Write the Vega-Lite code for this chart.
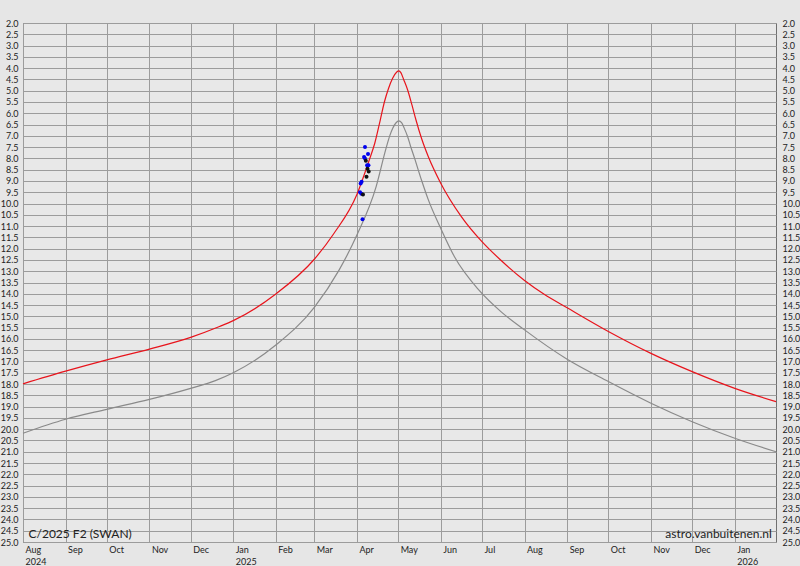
{
  "$schema": "https://vega.github.io/schema/vega-lite/v6.json",
  "width": 753,
  "height": 519,
  "autosize": {"type": "none"},
  "padding": {"left": 23, "top": 23, "right": 24, "bottom": 24},
  "background": "#e6e6e6",
  "config": {
    "view": {"fill": "#e8e8e8", "stroke": "#707070", "strokeWidth": 1},
    "font": "Lato"
  },
  "datasets": {
    "curves": [
      {"date": "2024-08-01", "mag": 17.99, "series": "total"},
      {"date": "2024-09-01", "mag": 17.43, "series": "total"},
      {"date": "2024-10-01", "mag": 16.93, "series": "total"},
      {"date": "2024-11-01", "mag": 16.45, "series": "total"},
      {"date": "2024-12-01", "mag": 15.93, "series": "total"},
      {"date": "2024-12-22", "mag": 15.45, "series": "total"},
      {"date": "2025-01-01", "mag": 15.19, "series": "total"},
      {"date": "2025-02-01", "mag": 14.01, "series": "total"},
      {"date": "2025-03-01", "mag": 12.47, "series": "total"},
      {"date": "2025-03-15", "mag": 11.35, "series": "total"},
      {"date": "2025-04-01", "mag": 9.6, "series": "total"},
      {"date": "2025-04-10", "mag": 8.07, "series": "total"},
      {"date": "2025-04-14", "mag": 7.33, "series": "total"},
      {"date": "2025-04-18", "mag": 6.3, "series": "total"},
      {"date": "2025-04-21", "mag": 5.5, "series": "total"},
      {"date": "2025-04-24", "mag": 4.9, "series": "total"},
      {"date": "2025-04-27", "mag": 4.45, "series": "total"},
      {"date": "2025-04-30", "mag": 4.17, "series": "total"},
      {"date": "2025-05-01T12:00:00Z", "mag": 4.12, "series": "total"},
      {"date": "2025-05-03", "mag": 4.2, "series": "total"},
      {"date": "2025-05-05", "mag": 4.5, "series": "total"},
      {"date": "2025-05-08", "mag": 4.98, "series": "total"},
      {"date": "2025-05-11", "mag": 5.62, "series": "total"},
      {"date": "2025-05-14", "mag": 6.3, "series": "total"},
      {"date": "2025-05-18", "mag": 7.11, "series": "total"},
      {"date": "2025-05-23", "mag": 7.93, "series": "total"},
      {"date": "2025-06-01", "mag": 9.1, "series": "total"},
      {"date": "2025-06-16", "mag": 10.58, "series": "total"},
      {"date": "2025-07-01", "mag": 11.69, "series": "total"},
      {"date": "2025-07-14", "mag": 12.47, "series": "total"},
      {"date": "2025-08-01", "mag": 13.41, "series": "total"},
      {"date": "2025-08-15", "mag": 14.01, "series": "total"},
      {"date": "2025-09-01", "mag": 14.62, "series": "total"},
      {"date": "2025-10-01", "mag": 15.67, "series": "total"},
      {"date": "2025-11-01", "mag": 16.64, "series": "total"},
      {"date": "2025-12-01", "mag": 17.45, "series": "total"},
      {"date": "2026-01-01", "mag": 18.19, "series": "total"},
      {"date": "2026-01-31", "mag": 18.78, "series": "total"},
      {"date": "2024-08-01", "mag": 20.18, "series": "nucleus"},
      {"date": "2024-09-01", "mag": 19.56, "series": "nucleus"},
      {"date": "2024-10-01", "mag": 19.12, "series": "nucleus"},
      {"date": "2024-11-01", "mag": 18.68, "series": "nucleus"},
      {"date": "2024-12-01", "mag": 18.19, "series": "nucleus"},
      {"date": "2024-12-19", "mag": 17.85, "series": "nucleus"},
      {"date": "2025-01-01", "mag": 17.5, "series": "nucleus"},
      {"date": "2025-02-01", "mag": 16.27, "series": "nucleus"},
      {"date": "2025-03-01", "mag": 14.6, "series": "nucleus"},
      {"date": "2025-03-19", "mag": 12.95, "series": "nucleus"},
      {"date": "2025-04-01", "mag": 11.4, "series": "nucleus"},
      {"date": "2025-04-15", "mag": 9.25, "series": "nucleus"},
      {"date": "2025-04-22", "mag": 7.6, "series": "nucleus"},
      {"date": "2025-04-25", "mag": 6.98, "series": "nucleus"},
      {"date": "2025-04-27", "mag": 6.67, "series": "nucleus"},
      {"date": "2025-04-29T12:00:00Z", "mag": 6.42, "series": "nucleus"},
      {"date": "2025-05-01T12:00:00Z", "mag": 6.34, "series": "nucleus"},
      {"date": "2025-05-03T12:00:00Z", "mag": 6.42, "series": "nucleus"},
      {"date": "2025-05-05T12:00:00Z", "mag": 6.67, "series": "nucleus"},
      {"date": "2025-05-08", "mag": 7.05, "series": "nucleus"},
      {"date": "2025-05-10", "mag": 7.45, "series": "nucleus"},
      {"date": "2025-05-13", "mag": 8.0, "series": "nucleus"},
      {"date": "2025-05-18", "mag": 8.96, "series": "nucleus"},
      {"date": "2025-05-23", "mag": 9.84, "series": "nucleus"},
      {"date": "2025-06-01", "mag": 11.1, "series": "nucleus"},
      {"date": "2025-06-11", "mag": 12.36, "series": "nucleus"},
      {"date": "2025-06-29", "mag": 13.85, "series": "nucleus"},
      {"date": "2025-07-15", "mag": 14.8, "series": "nucleus"},
      {"date": "2025-08-01", "mag": 15.6, "series": "nucleus"},
      {"date": "2025-09-01", "mag": 16.9, "series": "nucleus"},
      {"date": "2025-10-01", "mag": 17.89, "series": "nucleus"},
      {"date": "2025-11-01", "mag": 18.85, "series": "nucleus"},
      {"date": "2025-12-01", "mag": 19.67, "series": "nucleus"},
      {"date": "2026-01-01", "mag": 20.4, "series": "nucleus"},
      {"date": "2026-01-31", "mag": 21.0, "series": "nucleus"}
    ],
    "observations": [
      {"date": "2025-04-06T21:00:00Z", "mag": 7.5, "observer": "A"},
      {"date": "2025-04-09T02:00:00Z", "mag": 7.81, "observer": "A"},
      {"date": "2025-04-06T05:00:00Z", "mag": 7.94, "observer": "A"},
      {"date": "2025-04-06T21:00:00Z", "mag": 8.0, "observer": "A"},
      {"date": "2025-04-07T12:00:00Z", "mag": 8.1, "observer": "B"},
      {"date": "2025-04-08T10:00:00Z", "mag": 8.3, "observer": "A"},
      {"date": "2025-04-09T10:00:00Z", "mag": 8.3, "observer": "A"},
      {"date": "2025-04-08T17:00:00Z", "mag": 8.46, "observer": "B"},
      {"date": "2025-04-09T14:00:00Z", "mag": 8.58, "observer": "B"},
      {"date": "2025-04-08T00:00:00Z", "mag": 8.81, "observer": "B"},
      {"date": "2025-04-04T10:00:00Z", "mag": 9.04, "observer": "A"},
      {"date": "2025-04-03T17:00:00Z", "mag": 9.11, "observer": "A"},
      {"date": "2025-04-03T07:00:00Z", "mag": 9.5, "observer": "A"},
      {"date": "2025-04-04T05:00:00Z", "mag": 9.57, "observer": "A"},
      {"date": "2025-04-05T10:00:00Z", "mag": 9.6, "observer": "B"},
      {"date": "2025-04-05T02:00:00Z", "mag": 10.7, "observer": "A"}
    ],
    "titleLabel": [{"date": "2024-08-05", "mag": 24.82, "text": "C/2025 F2 (SWAN)"}],
    "creditLabel": [{"date": "2026-01-28", "mag": 24.82, "text": "astro.vanbuitenen.nl"}]
  },
  "encoding": {
    "x": {
      "field": "date",
      "type": "temporal",
      "scale": {
        "type": "utc",
        "domain": [
          {"year": 2024, "month": 8, "date": 1, "utc": true},
          {"year": 2026, "month": 1, "date": 31, "utc": true}
        ]
      },
      "axis": {
        "orient": "bottom",
        "title": null,
        "tickCount": {"interval": "month", "step": 1},
        "grid": true,
        "gridColor": "#9c9c9c",
        "gridWidth": 1,
        "domain": false,
        "ticks": false,
        "labelAlign": "left",
        "labelBaseline": "top",
        "labelOffset": 2,
        "labelPadding": 3,
        "labelFontSize": 9,
        "labelColor": "#222222",
        "labelLineHeight": 12,
        "labelFlush": false,
        "labelOverlap": false,
        "labelBound": false,
        "labelExpr": "(utcmonth(datum.value) == 0 || (utcyear(datum.value) == 2024 && utcmonth(datum.value) == 7)) ? [utcFormat(datum.value, '%b'), utcFormat(datum.value, '%Y')] : utcFormat(datum.value, '%b')"
      }
    }
  },
  "layer": [
    {
      "data": {"name": "curves"},
      "mark": {"type": "line", "interpolate": "monotone", "strokeWidth": 1.2},
      "encoding": {
        "y": {
          "field": "mag",
          "type": "quantitative",
          "scale": {"domain": [2, 25], "reverse": true, "nice": false, "zero": false},
          "axis": {
            "orient": "left",
            "title": null,
            "values": [2, 2.5, 3, 3.5, 4, 4.5, 5, 5.5, 6, 6.5, 7, 7.5, 8, 8.5, 9, 9.5, 10, 10.5, 11, 11.5, 12, 12.5, 13, 13.5, 14, 14.5, 15, 15.5, 16, 16.5, 17, 17.5, 18, 18.5, 19, 19.5, 20, 20.5, 21, 21.5, 22, 22.5, 23, 23.5, 24, 24.5, 25],
            "format": ".1f",
            "grid": true,
            "gridColor": "#9c9c9c",
            "gridWidth": 1,
            "domain": false,
            "ticks": false,
            "labelPadding": 5,
            "labelFontSize": 9,
            "labelColor": "#222222",
            "labelFlush": false,
            "labelOverlap": false,
            "labelBound": false
          }
        },
        "color": {
          "field": "series",
          "type": "nominal",
          "scale": {"domain": ["total", "nucleus"], "range": ["#e8141c", "#8a8a8a"]},
          "legend": null
        }
      }
    },
    {
      "data": {"name": "observations"},
      "mark": {"type": "point", "filled": true, "shape": "circle", "size": 16, "opacity": 1},
      "encoding": {
        "y": {
          "field": "mag",
          "type": "quantitative",
          "scale": {"domain": [2, 25], "reverse": true, "nice": false, "zero": false},
          "axis": {
            "orient": "right",
            "title": null,
            "values": [2, 2.5, 3, 3.5, 4, 4.5, 5, 5.5, 6, 6.5, 7, 7.5, 8, 8.5, 9, 9.5, 10, 10.5, 11, 11.5, 12, 12.5, 13, 13.5, 14, 14.5, 15, 15.5, 16, 16.5, 17, 17.5, 18, 18.5, 19, 19.5, 20, 20.5, 21, 21.5, 22, 22.5, 23, 23.5, 24, 24.5, 25],
            "format": ".1f",
            "grid": false,
            "domain": false,
            "ticks": false,
            "labelPadding": 6,
            "labelFontSize": 9,
            "labelColor": "#222222",
            "labelFlush": false,
            "labelOverlap": false,
            "labelBound": false
          }
        },
        "color": {
          "field": "observer",
          "type": "nominal",
          "scale": {"domain": ["A", "B"], "range": ["#0000ee", "#111111"]},
          "legend": null
        }
      }
    },
    {
      "data": {"name": "titleLabel"},
      "mark": {"type": "text", "align": "left", "baseline": "alphabetic", "fontSize": 12, "color": "#222222"},
      "encoding": {
        "y": {"field": "mag", "type": "quantitative", "axis": null},
        "text": {"field": "text"}
      }
    },
    {
      "data": {"name": "creditLabel"},
      "mark": {"type": "text", "align": "right", "baseline": "alphabetic", "fontSize": 12, "color": "#222222"},
      "encoding": {
        "y": {"field": "mag", "type": "quantitative", "axis": null},
        "text": {"field": "text"}
      }
    }
  ],
  "resolve": {"axis": {"y": "independent"}, "scale": {"color": "independent"}}
}
